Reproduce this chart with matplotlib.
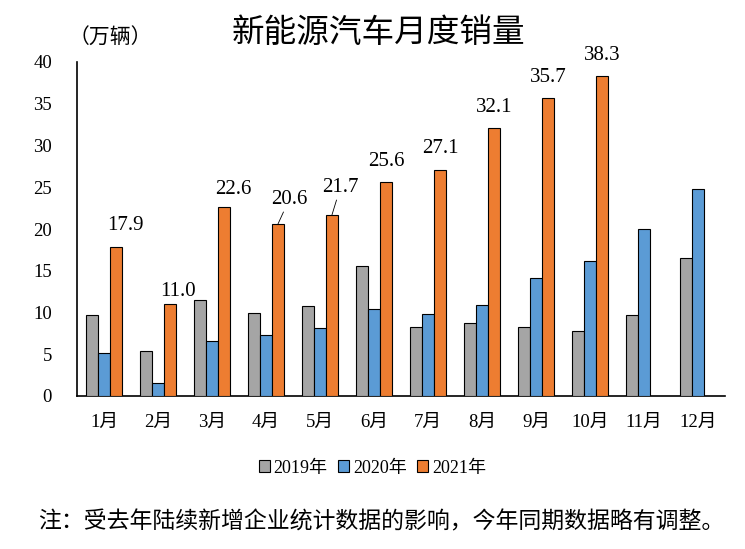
import numpy as np
import matplotlib
matplotlib.use("Agg")
from matplotlib import pyplot as plt

plt.rcParams['font.family'] = ['Liberation Serif', 'Noto Sans CJK SC', 'DejaVu Sans']

months = ["1月", "2月", "3月", "4月", "5月", "6月", "7月", "8月", "9月", "10月", "11月", "12月"]
sales_2019 = [9.7, 5.4, 11.5, 9.9, 10.8, 15.6, 8.3, 8.7, 8.3, 7.8, 9.7, 16.5]
sales_2020 = [5.2, 1.6, 6.6, 7.3, 8.2, 10.4, 9.8, 10.9, 14.1, 16.2, 20.0, 24.8]
sales_2021 = [17.9, 11.0, 22.6, 20.6, 21.7, 25.6, 27.1, 32.1, 35.7, 38.3]
years = ["2019年", "2020年", "2021年"]
colors = ["#A5A5A5", "#5B9BD5", "#ED7D31"]

# label offsets in points (dx, dy) from the bar top, and whether a leader line is drawn
label_off = [(6.5, 15), (6, 9), (6.5, 13), (8, 17.5), (6, 19.5), (0, 15), (0, 15),
             (0, 15), (0, 15), (0, 15)]
leader = [False, False, False, True, True, False, False, False, False, False]

fig = plt.figure(figsize=(7.45, 5.49), dpi=100)
ax = fig.add_axes([77 / 745, 1 - 396 / 549, 648 / 745, 334 / 549])

x = np.arange(len(months))
w = 0.222
ax.bar(x - w, sales_2019, w, color=colors[0], edgecolor="black", linewidth=0.8, label=years[0], zorder=3)
ax.bar(x, sales_2020, w, color=colors[1], edgecolor="black", linewidth=0.8, label=years[1], zorder=3)
x21 = x[:len(sales_2021)]
ax.bar(x21 + w, sales_2021, w, color=colors[2], edgecolor="black", linewidth=0.8, label=years[2], zorder=3)

for i, v in enumerate(sales_2021):
    dx, dy = label_off[i]
    props = None
    if leader[i]:
        props = dict(arrowstyle="-", color="black", lw=0.6, shrinkA=0, shrinkB=0)
    ax.annotate("%.1f" % v, xy=(x21[i] + w, v), xytext=(dx, dy), textcoords="offset points",
                ha="center", va="center", fontsize=15, arrowprops=props)

ax.set_xlim(-0.5, 11.5)
ax.set_ylim(0, 40)
ax.set_yticks(range(0, 41, 5))
ax.set_xticks(x)
ax.set_xticklabels(months)
ax.tick_params(axis="both", length=0, labelsize=13.5)
ax.tick_params(axis="y", pad=18)
ax.tick_params(axis="x", pad=13)
for s in ["top", "right"]:
    ax.spines[s].set_visible(False)
ax.spines["left"].set_linewidth(1.2)
ax.spines["bottom"].set_linewidth(1.2)

fig.text(378 / 745, 1 - 33 / 549, "新能源汽车月度销量", fontsize=23.5, ha="center", va="center",
         family=["Noto Sans CJK SC"], weight="medium")
fig.text(110 / 745, 1 - 38 / 549, "（万辆）", fontsize=15, ha="center", va="center",
         family=["Noto Sans CJK SC"])

fig.legend(loc="center", bbox_to_anchor=(0.5, 1 - 468 / 549), ncol=3, frameon=False,
           fontsize=13, handlelength=0.6, handleheight=0.6, handletextpad=0.2, columnspacing=0.6)

fig.text(381 / 745, 1 - 522 / 549, "注：受去年陆续新增企业统计数据的影响，今年同期数据略有调整。", fontsize=16.5,
         ha="center", va="center", family=["Noto Sans CJK SC"])

fig.savefig("out.png", dpi=100)
